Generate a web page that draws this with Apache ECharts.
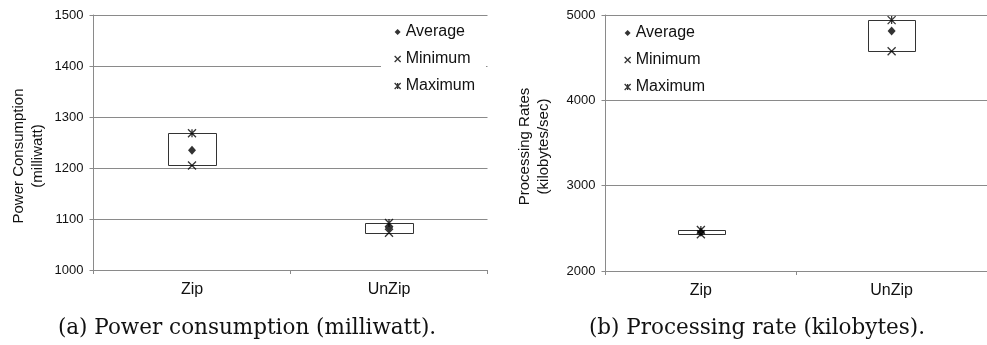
<!DOCTYPE html>
<html>
<head>
<meta charset="utf-8">
<script src="https://cdn.jsdelivr.net/npm/echarts@6/dist/echarts.min.js"></script>
<style>
html,body{margin:0;padding:0;background:#fff;}
#c{width:987px;height:345px;}
</style>
</head>
<body>
<div id="c"></div>
<script>
// ---- data ----
var categories = ['Zip', 'UnZip'];
var legendNames = ['Average', 'Minimum', 'Maximum'];

var powerMin = [1205, 1073];
var powerAvg = [1235, 1083];
var powerMax = [1268, 1092];
var powerTicks = {min: 1000, max: 1500, interval: 100};

var rateMin = [2430, 4575];
var rateAvg = [2455, 4812];
var rateMax = [2480, 4940];
var rateTicks = {min: 2000, max: 5000, interval: 1000};

var captionA = '(a) Power consumption (milliwatt).';
var captionB = '(b) Processing rate (kilobytes).';
var titleA = 'Power Consumption\n(milliwatt)';
var titleB = 'Processing Rates\n(kilobytes/sec)';

// ---- styling ----
var GRAY = '#8a8a8a';
var TXT = '#111';
var SANS = '"Liberation Sans", Arial, sans-serif';
var SERIF = '"DejaVu Serif", serif';
var CROSS = 'path://M0,0L10,10M10,0L0,10';
var STAR = 'path://M0,0L10,10M10,0L0,10M5,0L5,10';

function rangeData(mins, maxs) {
  return mins.map(function (v, i) { return [i, v, maxs[i]]; });
}

function boxRender(params, api) {
  var x = api.value(0);
  var lo = api.coord([x, api.value(1)]);
  var hi = api.coord([x, api.value(2)]);
  var w = api.size([1, 0])[0] * 0.245;
  return {
    type: 'rect',
    shape: {x: Math.round(lo[0] - w / 2) + 0.5, y: Math.round(hi[1]) + 0.5, width: Math.round(w), height: Math.round(lo[1] - hi[1])},
    style: {fill: '#fff', stroke: '#333', lineWidth: 1}
  };
}

function xAxisCfg(gi) {
  return {
    type: 'category', gridIndex: gi, data: categories,
    axisLine: {lineStyle: {color: GRAY, width: 1}},
    axisTick: {show: true, length: 4, lineStyle: {color: GRAY}},
    axisLabel: {fontSize: 16, fontFamily: SANS, color: TXT, margin: 12},
    splitLine: {show: false}
  };
}

function yAxisCfg(gi, t, name, gap, shift) {
  return {
    type: 'value', gridIndex: gi, min: t.min, max: t.max, interval: t.interval,
    name: name, nameLocation: 'middle', nameRotate: 90, nameGap: gap,
    nameTextStyle: {fontSize: 15, fontFamily: SANS, color: TXT, lineHeight: 19, padding: [0, shift, 0, 0]},
    axisLine: {show: true, lineStyle: {color: GRAY, width: 1}},
    axisTick: {show: true, length: 4, lineStyle: {color: GRAY}},
    axisLabel: {fontSize: 13, fontFamily: SANS, color: TXT, margin: 10,
                formatter: function (v) { return String(v); }},
    splitLine: {show: true, lineStyle: {color: GRAY, width: 1}}
  };
}

function seriesFor(gi, mins, avgs, maxs) {
  return [
    {type: 'custom', name: 'range' + gi, xAxisIndex: gi, yAxisIndex: gi,
     renderItem: boxRender, data: rangeData(mins, maxs), encode: {x: 0, y: [1, 2]}, z: 2, silent: true},
    {type: 'scatter', name: 'Average', xAxisIndex: gi, yAxisIndex: gi, data: avgs,
     symbol: 'diamond', symbolSize: [8, 9], itemStyle: {color: '#000'}, z: 3},
    {type: 'scatter', name: 'Minimum', xAxisIndex: gi, yAxisIndex: gi, data: mins,
     symbol: CROSS, symbolSize: 8, itemStyle: {color: 'rgba(0,0,0,0)', borderColor: '#000', borderWidth: 1.3}, z: 3},
    {type: 'scatter', name: 'Maximum', xAxisIndex: gi, yAxisIndex: gi, data: maxs,
     symbol: STAR, symbolSize: 8, itemStyle: {color: 'rgba(0,0,0,0)', borderColor: '#000', borderWidth: 1.3}, z: 3}
  ];
}

var legendText = {fontSize: 16, fontFamily: SANS, color: TXT, lineHeight: 18};

var chart = echarts.init(document.getElementById('c'), null, {renderer: 'canvas'});
chart.setOption({
  animation: false,
  backgroundColor: '#fff',
  grid: [
    {left: 93.5, top: 15, width: 394, height: 255},
    {left: 605.5, top: 15, width: 392, height: 256}
  ],
  xAxis: [xAxisCfg(0), xAxisCfg(1)],
  yAxis: [yAxisCfg(0, powerTicks, titleA, 46, 27), yAxisCfg(1, rateTicks, titleB, 52, 7)],
  legend: [
    {data: legendNames, orient: 'vertical', left: 381, top: 19, itemWidth: 6, itemHeight: 6, itemGap: 9,
     padding: [4, 11, 5, 13], backgroundColor: '#fff', textStyle: legendText, selectedMode: false,
     itemStyle: {borderWidth: 1.3}},
    {data: legendNames, orient: 'vertical', left: 624, top: 24, itemWidth: 6, itemHeight: 6, itemGap: 9,
     padding: 0, textStyle: legendText, selectedMode: false, itemStyle: {borderWidth: 1.3}}
  ],
  graphic: [
    {type: 'text', x: 247, y: 328, style: {text: captionA, fontSize: 21.5, fontFamily: SERIF, fill: '#111', align: 'center', verticalAlign: 'middle'}},
    {type: 'text', x: 757, y: 328, style: {text: captionB, fontSize: 21.5, fontFamily: SERIF, fill: '#111', align: 'center', verticalAlign: 'middle'}}
  ],
  series: seriesFor(0, powerMin, powerAvg, powerMax).concat(seriesFor(1, rateMin, rateAvg, rateMax))
});
</script>
</body>
</html>
